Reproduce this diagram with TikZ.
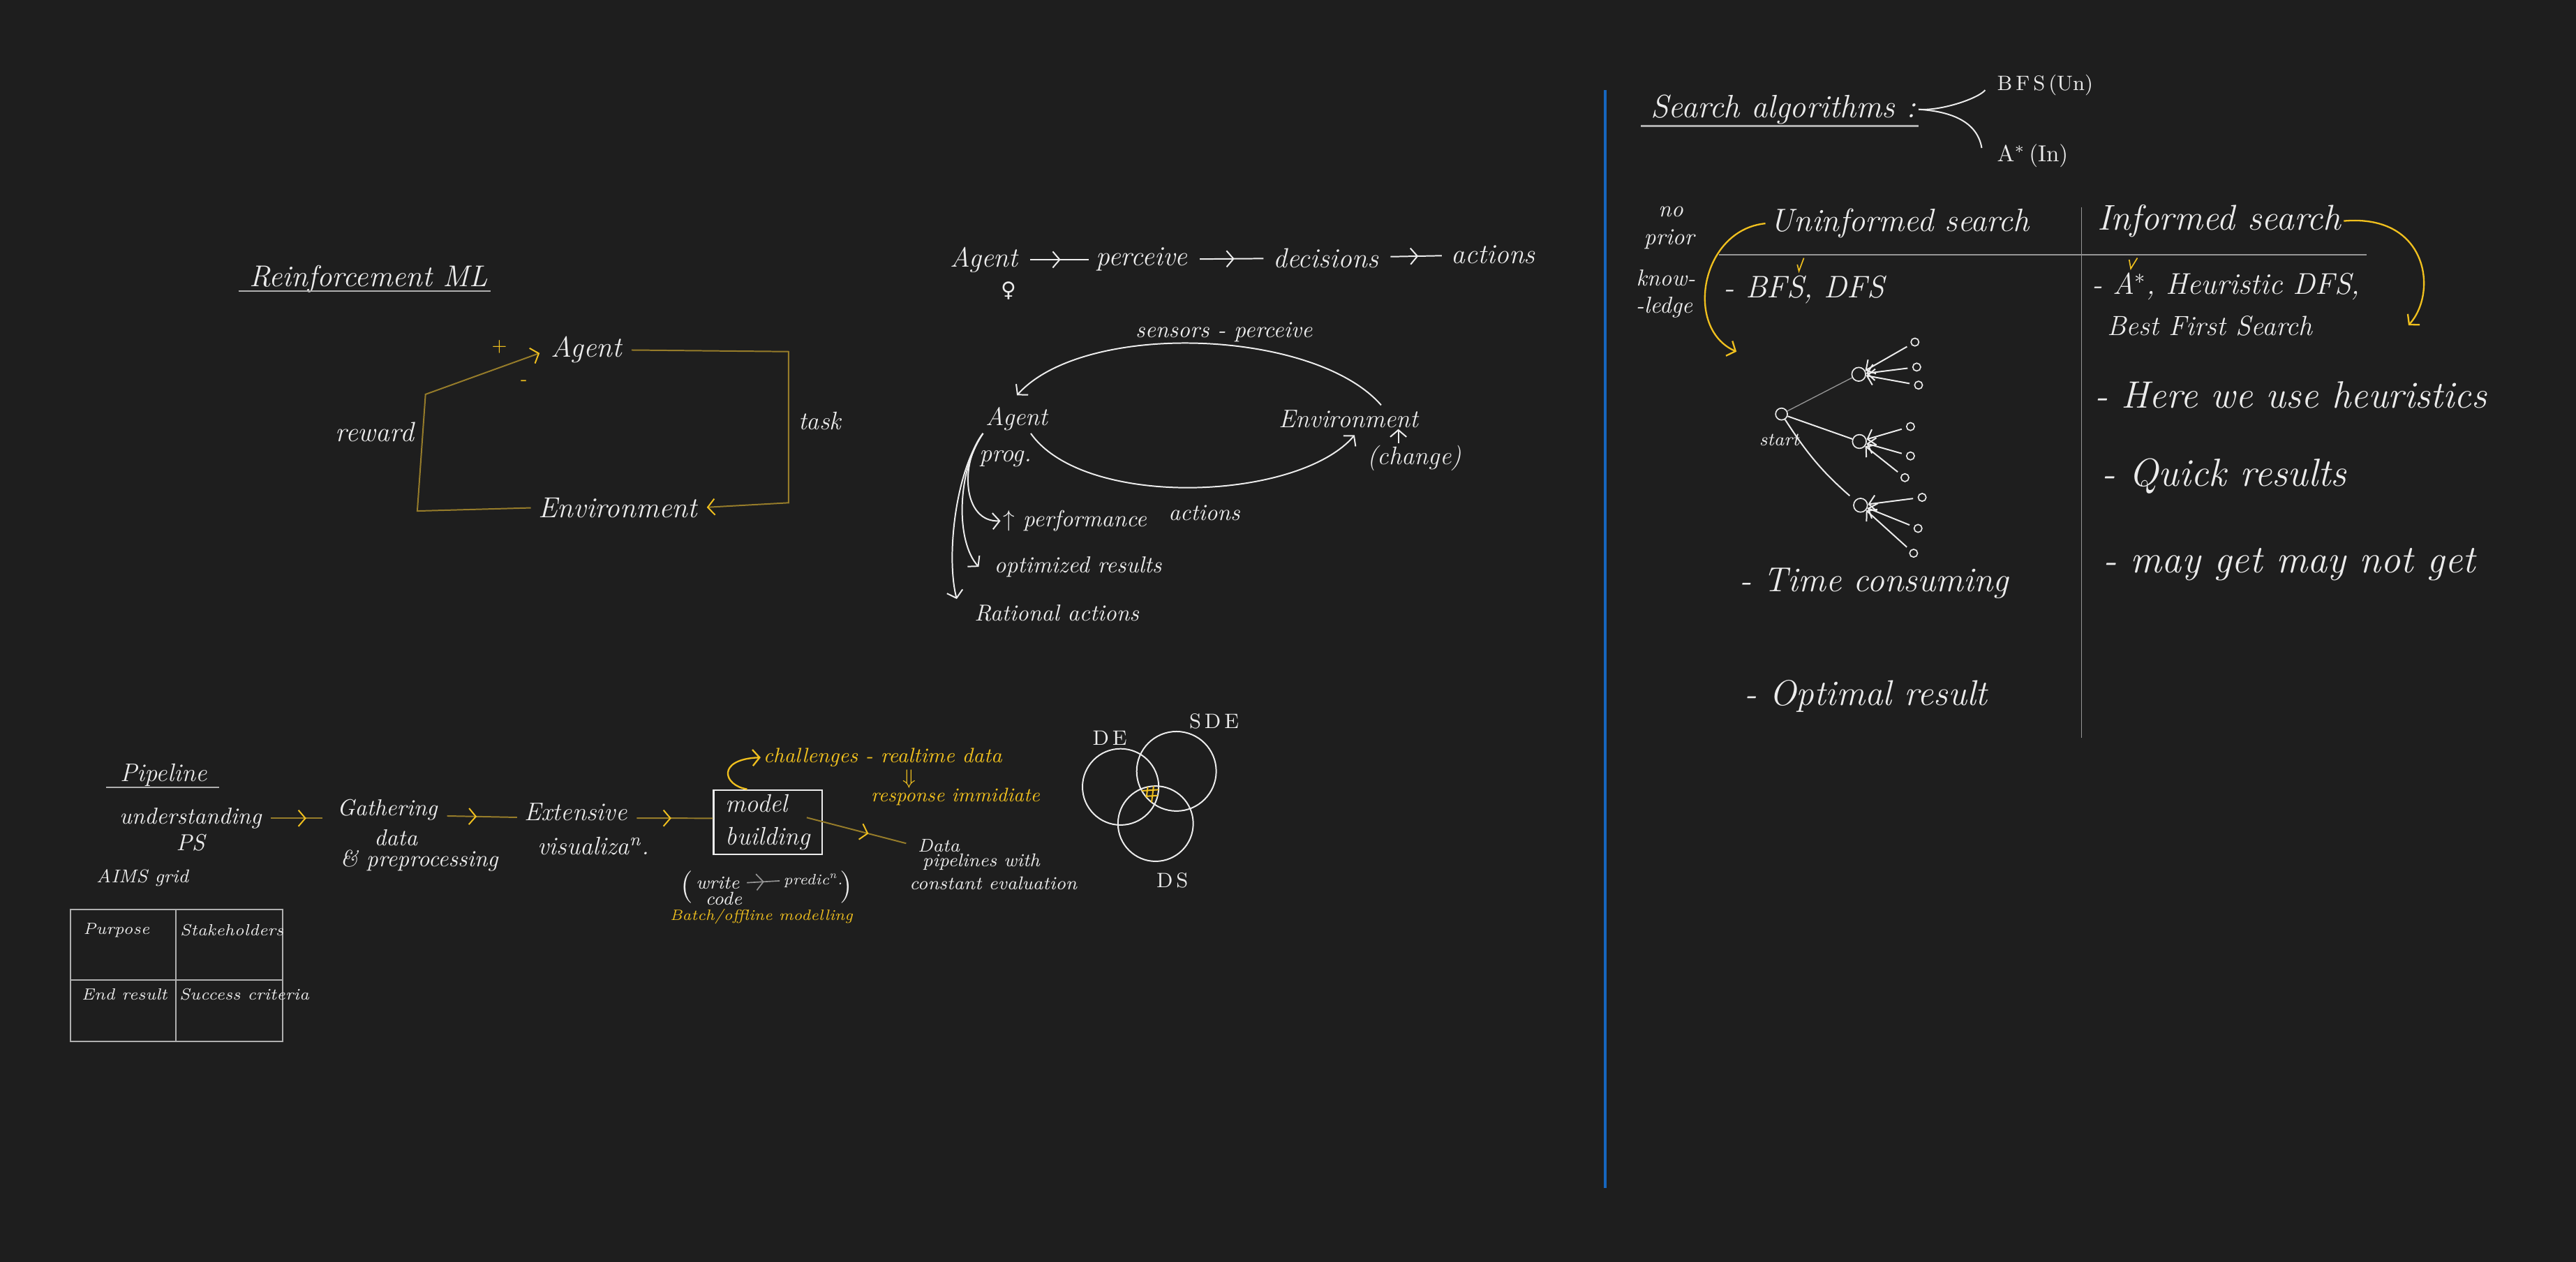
\documentclass[tikz,border=0pt]{standalone}
\usepackage{tikz}
\usepackage{amsmath}
\usepackage{fontspec}
\newfontfamily\symbfont{DejaVu Sans}
\usetikzlibrary{arrows.meta,decorations.markings}

\definecolor{board}{RGB}{30,30,30}
\definecolor{chalk}{RGB}{236,236,236}
\definecolor{dimgold}{RGB}{150,124,42}
\definecolor{marker}{RGB}{240,192,30}
\definecolor{rulegray}{RGB}{150,150,150}
\definecolor{gridgray}{RGB}{175,175,175}
\definecolor{divblue}{RGB}{22,102,190}

\begin{document}
\begin{tikzpicture}[x=0.025cm,y=-0.025cm,
    every node/.style={text=chalk,inner sep=1pt},
    hs/.style={font=\itshape\fontsize{#1}{#1}\selectfont},
    ps/.style={font=\fontsize{#1}{#1}\selectfont},
    wire/.style={draw=chalk,line width=0.6pt},
    goldwire/.style={draw=dimgold,line width=0.6pt},
    yelwire/.style={draw=marker,line width=0.7pt},
    gridline/.style={draw=gridgray,line width=0.6pt},
    tip/.style={-{Straight Barb[length=3pt,width=7pt]}},
    yeltip/.style={-{Straight Barb[length=3pt,width=7pt,color=marker]}},
    midtip/.style={postaction={decorate},decoration={markings,mark=at position #1 with {\arrow{Straight Barb[length=3pt,width=7pt]}}}},
    midyel/.style={postaction={decorate},decoration={markings,mark=at position #1 with {\arrow{Straight Barb[length=3pt,width=7pt,color=marker]}}}},
    leaf/.style={circle,draw=chalk,line width=0.5pt,minimum size=#1,inner sep=0pt},
  ]
    \fill[board] (0,0) rectangle (1568,768);
    \useasboundingbox (0,0) rectangle (1568,768);

    \draw[divblue,line width=1.1pt] (977,55) -- (977,723);

    \node[hs=13,anchor=base west] (rlTitle) at (150,174.5) {Reinforcement ML};
    \draw[gridgray,line width=0.6pt] ([xshift=-3.5pt,yshift=-2pt]rlTitle.base west) -- ([yshift=-2pt]rlTitle.base east);
    \node[hs=12.5] (agentRl) at (357,213) {Agent};
    \node[hs=12.5] (envRl) at (376,309) {Environment};
    \node[hs=12] (rewardRl) at (228,263) {reward};
    \node[hs=11] (taskRl) at (499,256) {task};
    \node[ps=8,text=marker] (plusRl) at (304,211) {+};
    \node[ps=8,text=marker] (minusRl) at (319,233) {-};
    \coordinate (rewardLow) at (254,311);
    \coordinate (rewardHigh) at (259,240);
    \coordinate (taskHigh) at (480,214);
    \coordinate (taskLow) at (480,306);
    \draw[goldwire,yeltip,shorten <=2pt,shorten >=4pt] (envRl.west) -- (rewardLow) -- (rewardHigh) -- (agentRl.west);
    \draw[goldwire,yeltip,shorten <=3pt,shorten >=3pt] (agentRl.east) -- (taskHigh) -- (taskLow) -- (envRl.east);

    \node[hs=12] (agentTop) at (599,158) {Agent};
    \node[hs=12] (perceiveTop) at (695,158) {perceive};
    \node[hs=12] (decisionsTop) at (807,157) {decisions};
    \node[hs=12] (actionsTop) at (909,155) {actions};
    \node[font=\symbfont\fontsize{9}{9}\selectfont] (femaleTop) at (614,177) {♀};
    \draw[wire,midtip=0.55,shorten <=4pt,shorten >=2pt] (agentTop) -- (perceiveTop);
    \draw[wire,midtip=0.55,shorten <=4pt,shorten >=3pt] (perceiveTop) -- (decisionsTop);
    \draw[wire,midtip=0.55,shorten <=4pt,shorten >=3pt] (decisionsTop) -- (actionsTop);

    \node[hs=10] (sensorsMid) at (745,202) {sensors - perceive};
    \node[hs=11] (agentMid) at (619,255) {Agent};
    \node[hs=11] (progMid) at (612,279) {prog.};
    \node[hs=11] (envMid) at (821,255) {Environment};
    \node[hs=11] (changeMid) at (861,279) {(change)};
    \node[hs=10] (actionsMid) at (733,312) {actions};
    \node[hs=10,anchor=west] (perfMid) at (609,317) {$\uparrow$ performance};
    \node[hs=10,anchor=west] (optMid) at (603.5,345) {optimized results};
    \node[hs=10,anchor=west] (ratMid) at (591.5,373) {Rational actions};
    \draw[wire,tip] ([xshift=14pt,yshift=1pt]envMid.north) .. controls (800,200) and (660,195) .. ([yshift=4pt]agentMid.north);
    \draw[wire,tip] ([xshift=6pt]agentMid.south) .. controls (660,310) and (790,305) .. ([xshift=2.5pt,yshift=-2pt]envMid.south);
    \draw[wire,tip] ([xshift=-7pt]changeMid.north) -- ([xshift=-7pt,yshift=6pt]changeMid.north);
    \draw[wire,tip] (agentMid.south west) .. controls (584,282) and (586,318) .. (perfMid.west);
    \draw[wire,tip] (agentMid.south west) .. controls (582,288) and (582,330) .. ([xshift=-5.5pt]optMid.west);
    \draw[wire,tip] (agentMid.south west) .. controls (581,288) and (576,340) .. ([xshift=-6.5pt,yshift=6pt]ratMid.west);

    \node[hs=11,anchor=base west] (pipeTitle) at (71.5,475.5) {Pipeline};
    \draw[gridgray,line width=0.6pt] ([xshift=-5pt,yshift=-2.5pt]pipeTitle.base west) -- ([xshift=4pt,yshift=-2.5pt]pipeTitle.base east);
    \node[hs=10,anchor=west] (understandPipe) at (71,498) {understanding};
    \node[hs=10] (psPipe) at (116,513) {PS};
    \node[hs=10,anchor=west] (gatherPipe) at (203.5,493) {Gathering};
    \node[hs=10] (dataPipe) at (241,510) {data};
    \node[hs=10,anchor=west] (prepPipe) at (205.5,524) {\& preprocessing};
    \node[hs=11,anchor=west] (extPipe) at (317.5,494) {Extensive};
    \node[hs=11,anchor=west] (visPipe) at (325.5,515) {visualiza\textsuperscript{n}.};
    \node[hs=11,draw=chalk,line width=0.7pt,minimum width=1.65cm,minimum height=0.98cm,align=left] (modelPipe) at (467.4,500.4) {model\\[3pt]building};
    \draw[goldwire,midyel=0.6,shorten <=3pt,shorten >=5pt] (understandPipe.east) -- (gatherPipe.west |- understandPipe.east);
    \draw[goldwire,midyel=0.45,shorten <=3pt,shorten >=2pt] ([yshift=-2.5pt]gatherPipe.east) -- ([yshift=-2.5pt]extPipe.west);
    \draw[goldwire,midyel=0.5,shorten <=3pt] ([yshift=-2.8pt]extPipe.east) -- ([yshift=1.7pt]modelPipe.west);

    \node[hs=9,text=marker,anchor=west] (challPipe) at (463,461) {challenges - realtime data};
    \node[font=\fontsize{9}{9}\selectfont,text=marker] (downPipe) at (553.5,474) {$\Downarrow$};
    \node[hs=8.5,text=marker,anchor=west] (respPipe) at (528.5,485) {response immidiate};
    \draw[yelwire,tip] ([xshift=-9pt]modelPipe.north) .. controls (440,478) and (436,462) .. (challPipe.west);

    \node[hs=8,anchor=west] (dataPipe2) at (557,514.7) {Data};
    \node[hs=8,anchor=west] (pipesPipe) at (560,524.6) {pipelines with};
    \node[hs=8,anchor=west] (constPipe) at (552,537.4) {constant evaluation};
    \draw[goldwire,midyel=0.57,shorten >=4pt] ([xshift=-7pt,yshift=2pt]modelPipe.east) -- (dataPipe2.west);

    \node[ps=14,inner sep=0pt] (lparPipe) at (418,540) {(};
    \node[hs=8,anchor=west] (writePipe) at (422,537.4) {write};
    \node[hs=8] (codePipe) at (440.5,547) {code};
    \node[hs=6.5,anchor=west,inner sep=0.5pt] (predPipe) at (476,536) {predic\textsuperscript{n}.};
    \node[ps=14,inner sep=0pt] (rparPipe) at (515,540) {)};
    \draw[draw=rulegray,line width=0.5pt,midtip=0.55,shorten <=2pt,shorten >=1pt] (writePipe.east) -- (predPipe.west);
    \node[hs=6.5,text=marker] (batchPipe) at (463.5,557.8) {Batch/offline modelling};

    \node[hs=8,anchor=west] (aimsPipe) at (57,534.4) {AIMS grid};
    \draw[gridline] (43,553.4) rectangle (172,633.7);
    \draw[gridline] (107,553.4) -- (107,633.7);
    \draw[gridline] (43,596.4) -- (172,596.4);
    \node[hs=7,anchor=west] (purposeCell) at (49,566) {Purpose};
    \node[hs=7,anchor=west] (stakeCell) at (108,566) {Stakeholders};
    \node[hs=7,anchor=west] (endCell) at (48,605) {End result};
    \node[hs=7,anchor=west] (successCell) at (107.5,605) {Success criteria};

    \node[circle,draw=chalk,line width=0.6pt,minimum size=1.16cm,inner sep=0pt] (deCirc) at (682.1,478.9) {};
    \node[circle,draw=chalk,line width=0.6pt,minimum size=1.21cm,inner sep=0pt] (sdeCirc) at (716.1,469.4) {};
    \node[circle,draw=chalk,line width=0.6pt,minimum size=1.145cm,inner sep=0pt] (dsCirc) at (703.4,501.3) {};
    \begin{scope}
        \clip (682.1,478.9) circle (0.58cm);
        \clip (716.1,469.4) circle (0.605cm);
        \clip (703.4,501.3) circle (0.5725cm);
        \draw[marker,line width=0.6pt] (699,476) -- (697,492) (702.5,476) -- (700.5,492) (692,481.5) -- (707,480.5) (692,485) -- (707,484);
    \end{scope}
    \node[ps=9] (deLabel) at (675.5,449) {D\,E};
    \node[ps=9] (sdeLabel) at (739,439) {S\,D\,E};
    \node[ps=9] (dsLabel) at (713.6,536) {D\,S};

    \node[hs=14,anchor=base west] (searchTitle) at (1003,71.5) {Search algorithms :};
    \draw[gridgray,line width=0.7pt] ([xshift=-3pt,yshift=-3.7pt]searchTitle.base west) -- ([yshift=-3.7pt]searchTitle.base east);
    \node[ps=9,anchor=west] (bfsAlgo) at (1214,52) {B\,F\,S\,(Un)};
    \node[ps=10,anchor=west] (astarAlgo) at (1214,95) {A$^{*}$\,(In)};
    \draw[wire] (searchTitle.east) .. controls +(14,1) and +(-4,5) .. ([xshift=-4pt,yshift=-2pt]bfsAlgo.west);
    \draw[wire] (searchTitle.east) .. controls +(16,1) and +(-3,-18) .. ([xshift=-5.5pt,yshift=3.5pt]astarAlgo.west);

    \node[hs=10] (noNote) at (1017,128.7) {no};
    \node[hs=10] (priorNote) at (1016,145.7) {prior};
    \node[hs=10] (knowNote) at (1014,169) {know-};
    \node[hs=10] (ledgeNote) at (1013,187) {-ledge};
    \node[hs=14,anchor=west] (uninfHead) at (1076,136) {Uninformed search};
    \node[hs=15.5,anchor=west] (infHead) at (1275,134.5) {Informed search};
    \draw[rulegray,line width=0.8pt] (1046.5,155) -- (1440.6,155);
    \draw[rulegray,line width=0.4pt] (1267,126) -- (1267,449);
    \coordinate (treeTip) at (1057,214);
    \coordinate (bestTip) at (1466,198);
    \draw[yelwire,tip] ([xshift=-1pt]uninfHead.west) .. controls (1035,140) and (1025,200) .. (treeTip);
    \draw[yelwire,tip] (infHead.east) .. controls (1478,130) and (1484,178) .. (bestTip);

    \node[hs=13.5,anchor=west] (bfsItem) at (1047.5,176.3) {- BFS, DFS};
    \node[hs=13,anchor=west] (astarItem) at (1271.5,174.2) {- A$^{*}$, Heuristic DFS,};
    \node[hs=12,anchor=west] (bestItem) at (1281,198.3) {Best First Search};
    \draw[marker,line width=0.5pt] (1094,161) -- (1095,165) -- (1098,157);
    \draw[marker,line width=0.5pt] (1296,158) -- (1297,163.5) -- (1301,157);

    \node[leaf=0.18cm] (startNode) at (1084.4,252) {};
    \node[hs=8] (startLabel) at (1083,267.8) {start};
    \node[leaf=0.21cm] (childA) at (1131.4,227.8) {};
    \node[leaf=0.21cm] (childB) at (1131.8,268.7) {};
    \node[leaf=0.21cm] (childC) at (1132.5,307.5) {};
    \node[leaf=0.12cm] (leafAa) at (1165.6,208.2) {};
    \node[leaf=0.12cm] (leafAb) at (1166.7,223.4) {};
    \node[leaf=0.12cm] (leafAc) at (1167.8,234.4) {};
    \node[leaf=0.12cm] (leafBa) at (1162.9,259.6) {};
    \node[leaf=0.12cm] (leafBb) at (1162.9,277.5) {};
    \node[leaf=0.12cm] (leafBc) at (1159.5,290.7) {};
    \node[leaf=0.12cm] (leafCa) at (1170,302.7) {};
    \node[leaf=0.12cm] (leafCb) at (1167.5,321.6) {};
    \node[leaf=0.12cm] (leafCc) at (1164.8,336.7) {};
    \draw[draw=rulegray,line width=0.4pt] (startNode) -- (childA);
    \draw[wire] (startNode) -- (childB);
    \draw[wire,shorten >=3pt] (startNode) to[bend right=8] (childC);
    \draw[wire,tip,shorten <=2pt] (leafAa) -- (childA);
    \draw[wire,tip,shorten <=2pt] (leafAb) -- (childA);
    \draw[wire,tip,shorten <=2pt] (leafAc) -- (childA);
    \draw[wire,tip,shorten <=2pt] (leafBa) -- (childB);
    \draw[wire,tip,shorten <=2pt] (leafBb) -- (childB);
    \draw[wire,tip,shorten <=2pt] (leafBc) -- (childB);
    \draw[wire,tip,shorten <=2pt] (leafCa) -- (childC);
    \draw[wire,tip,shorten <=2pt] (leafCb) -- (childC);
    \draw[wire,tip,shorten <=2pt] (leafCc) -- (childC);

    \node[hs=15,anchor=west] (timeItem) at (1057,355) {- Time consuming};
    \node[hs=15.5,anchor=west] (optItem) at (1060,423.8) {- Optimal result};
    \node[hs=16.5,anchor=west] (heurItem) at (1273.5,240.5) {- Here we use heuristics};
    \node[hs=17,anchor=west] (quickItem) at (1277.5,289.7) {- Quick results};
    \node[hs=17,anchor=west] (mayItem) at (1278.5,343.7) {- may get may not get};
\end{tikzpicture}
\end{document}
